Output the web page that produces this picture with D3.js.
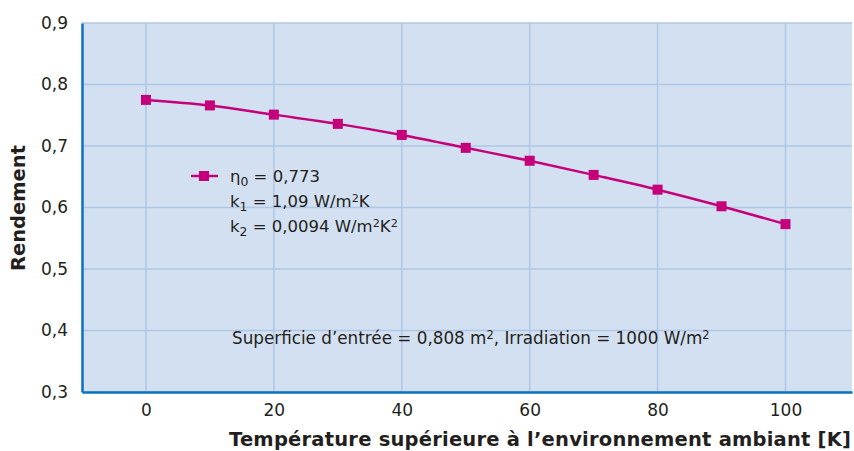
<!DOCTYPE html>
<html><head><meta charset="utf-8">
<script src="https://cdn.jsdelivr.net/npm/d3@7"></script>
<style>
body{margin:0;background:#fff;}
svg{display:block;font-family:"DejaVu Sans",sans-serif;}
</style></head>
<body><svg id="c" width="854" height="451"></svg>
<script>
const temps = [0,10,20,30,40,50,60,70,80,90,100];
const rendement = [0.775,0.766,0.751,0.736,0.718,0.697,0.676,0.653,0.629,0.602,0.573];
const xTicks = [0,20,40,60,80,100];
const yTicks = [0.3,0.4,0.5,0.6,0.7,0.8,0.9];
const legendLines = [
  [["η","n"],["0","sub"],[" = 0,773","n"]],
  [["k","n"],["1","sub"],[" = 1,09 W/m","n"],["2","sup"],["K","n"]],
  [["k","n"],["2","sub"],[" = 0,0094 W/m","n"],["2","sup"],["K","n"],["2","sup"]]
];
const note = [["Superficie d’entrée = 0,808 m","n"],["2","sup"],[", Irradiation = 1000 W/m","n"],["2","sup"]];
const xTitle = "Température supérieure à l’environnement ambiant [K]";
const yTitle = "Rendement";

const svg = d3.select("#c");
const L=82,R=852,T=23,B=392;
const x = d3.scaleLinear().domain([-10,110.4]).range([L,R]);
const y = d3.scaleLinear().domain([0.3,0.9]).range([B,T]);
const fmt = d => d3.format(".1f")(d).replace(".",",");

svg.append("rect").attr("x",L).attr("y",T).attr("width",R-L).attr("height",B-T).attr("fill","#d3e0f1");
const g = svg.append("g");
g.selectAll(".gy").data(yTicks).join("line").attr("x1",L).attr("x2",R)
 .attr("y1",d=>y(d)).attr("y2",d=>y(d)).attr("stroke","#afc7e5").attr("stroke-width",1.5);
g.selectAll(".gx").data(xTicks).join("line").attr("y1",T).attr("y2",B)
 .attr("x1",d=>x(d)).attr("x2",d=>x(d)).attr("stroke","#afc7e5").attr("stroke-width",1.5);

const yAxis = svg.append("g").attr("transform",`translate(${L},0)`)
 .call(d3.axisLeft(y).tickValues(yTicks).tickFormat(fmt).tickSize(0).tickPadding(14));
yAxis.select(".domain").attr("stroke","#0a72c0").attr("stroke-width",2.5);
yAxis.selectAll("text").attr("font-size",17).attr("fill","#231f20").attr("font-family","DejaVu Sans");
const xAxis = svg.append("g").attr("transform",`translate(0,${B})`)
 .call(d3.axisBottom(x).tickValues(xTicks).tickFormat(d3.format("d")).tickSize(0).tickPadding(12));
xAxis.select(".domain").attr("stroke","#0a72c0").attr("stroke-width",2.5);
xAxis.selectAll("text").attr("font-size",17).attr("fill","#231f20").attr("font-family","DejaVu Sans");

const pts = temps.map((t,i)=>[t,rendement[i]]);
svg.append("path").datum(pts)
 .attr("d",d3.line().x(d=>x(d[0])).y(d=>y(d[1])).curve(d3.curveMonotoneX))
 .attr("fill","none").attr("stroke","#c4007a").attr("stroke-width",2.5);
svg.selectAll(".m").data(pts).join("rect")
 .attr("x",d=>x(d[0])-5).attr("y",d=>y(d[1])-5).attr("width",10).attr("height",10).attr("fill","#c4007a");

function rich(sel, segs){
  let cur = 0;
  segs.forEach(([t,k])=>{
    const target = k==="sub"?4:(k==="sup"?-5:0);
    const ts = sel.append("tspan").attr("dy",target-cur).text(t);
    cur = target;
    if(k==="sub") ts.attr("font-size","75%");
    else if(k==="sup") ts.attr("font-size","68%");
  });
}

svg.append("line").attr("x1",191).attr("x2",218).attr("y1",176).attr("y2",176).attr("stroke","#c4007a").attr("stroke-width",2.5);
svg.append("rect").attr("x",199).attr("y",171).attr("width",10).attr("height",10).attr("fill","#c4007a");
legendLines.forEach((segs,i)=>{
  const t = svg.append("text").attr("x",230).attr("y",182+i*25).attr("font-size",16.5).attr("fill","#231f20");
  rich(t,segs);
});

const nt = svg.append("text").attr("x",232).attr("y",344).attr("font-size",16.8).attr("fill","#231f20");
rich(nt,note);

svg.append("text").attr("x",851).attr("y",446).attr("text-anchor","end")
 .attr("font-size",19.5).attr("font-weight","bold").attr("fill","#231f20")
 .attr("textLength",622).attr("lengthAdjust","spacing").text(xTitle);
svg.append("text").attr("transform","translate(25,208) rotate(-90)").attr("text-anchor","middle")
 .attr("font-size",19.5).attr("font-weight","bold").attr("fill","#231f20").text(yTitle);
</script></body></html>
